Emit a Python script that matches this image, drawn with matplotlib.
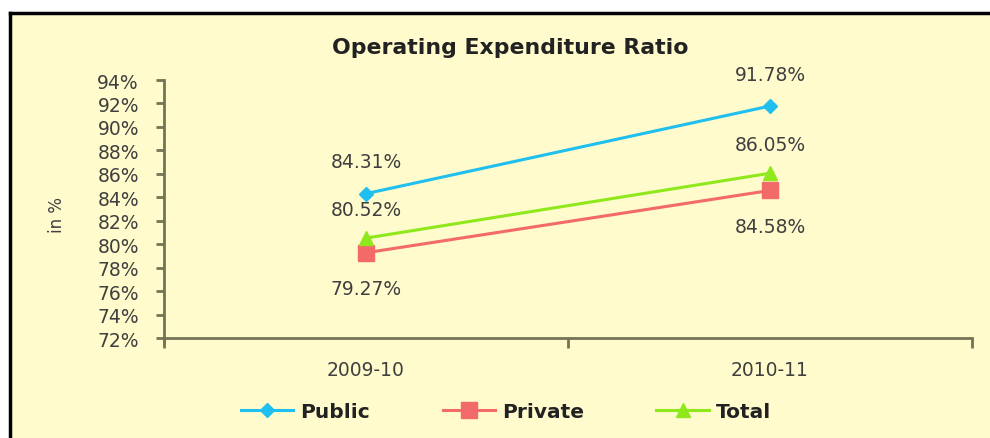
import matplotlib.pyplot as plt
from matplotlib.lines import Line2D
from matplotlib.patches import Rectangle
from matplotlib.ticker import FuncFormatter

years = ['2009-10', '2010-11']
public = [84.31, 91.78]
private = [79.27, 84.58]
total = [80.52, 86.05]

plt.rcParams['font.family'] = ['DejaVu Sans']
txt = '#3f3f3f'
axcol = '#737355'
bg = '#fffbcc'

W, H = 990, 439
fig = plt.figure(figsize=(W / 100, H / 100), dpi=100)
fig.patch.set_facecolor('white')

# cream chart area with a black frame on top and left
fig.patches.append(Rectangle((10 / W, 0), 1, 1 - 14 / H, transform=fig.transFigure,
                             facecolor=bg, edgecolor='none', zorder=-5))
fig.add_artist(Line2D([10 / W, 1], [1 - 14 / H] * 2, color='black', lw=2.5, zorder=-4))
fig.add_artist(Line2D([10 / W] * 2, [0, 1 - 14 / H], color='black', lw=2.5, zorder=-4))

ax = fig.add_axes([164 / W, 100 / H, 808 / W, 258 / H])
ax.set_zorder(2)
ax.set_facecolor('none')
x = list(range(len(years)))

ax.plot(x, public, color='#1fbfef', lw=2.2, marker='D', ms=7, label='Public')
ax.plot(x, private, color='#f26a6a', lw=2.2, marker='s', ms=12, label='Private')
ax.plot(x, total, color='#8fe81c', lw=2.2, marker='^', ms=10, label='Total')

fs = 13.5
for xi, v in zip(x, public):
    ax.annotate(f'{v:.2f}%', (xi, v), xytext=(0, 16), textcoords='offset points',
                ha='center', va='bottom', fontsize=fs, color=txt)
for xi, v in zip(x, total):
    ax.annotate(f'{v:.2f}%', (xi, v), xytext=(0, 14), textcoords='offset points',
                ha='center', va='bottom', fontsize=fs, color=txt)
for xi, v in zip(x, private):
    ax.annotate(f'{v:.2f}%', (xi, v), xytext=(0, -19), textcoords='offset points',
                ha='center', va='top', fontsize=fs, color=txt)

ax.set_xlim(-0.5, 1.5)
ax.set_ylim(72, 94)
ax.set_yticks(range(72, 95, 2))
ax.yaxis.set_major_formatter(FuncFormatter(lambda v, p: f'{v:.0f}%'))
ax.set_xticks(x)
ax.set_xticklabels(years)
ax.set_xticks([-0.5, 0.5, 1.5], minor=True)
ax.tick_params(axis='x', which='major', length=0, pad=16, labelsize=fs, labelcolor=txt)
ax.tick_params(axis='x', which='minor', length=7, width=2, color=axcol, direction='out')
ax.tick_params(axis='y', length=6, width=2, color=axcol, direction='out', pad=12,
               labelsize=fs, labelcolor=txt)
for s in ['top', 'right']:
    ax.spines[s].set_visible(False)
for s in ['left', 'bottom']:
    ax.spines[s].set_color(axcol)
    ax.spines[s].set_linewidth(2)
ax.spines['left'].set_bounds(71.6, 94)

fig.text(57 / W, 1 - 215 / H, 'in %', rotation=90, ha='center', va='center',
         fontsize=12, color=txt)
fig.text(510 / W, 1 - 48 / H, 'Operating Expenditure Ratio', ha='center', va='center',
         fontsize=15.8, fontweight='bold', color='#222222')

leg = fig.legend(loc='center', bbox_to_anchor=(506 / W, 1 - 413 / H), ncol=3,
                 frameon=False, fontsize=14.5, handlelength=2.6, columnspacing=3.6,
                 handletextpad=0.35)
for t in leg.get_texts():
    t.set_fontweight('bold')
    t.set_color('#222222')

fig.savefig('out.png', dpi=100, facecolor=fig.get_facecolor())
